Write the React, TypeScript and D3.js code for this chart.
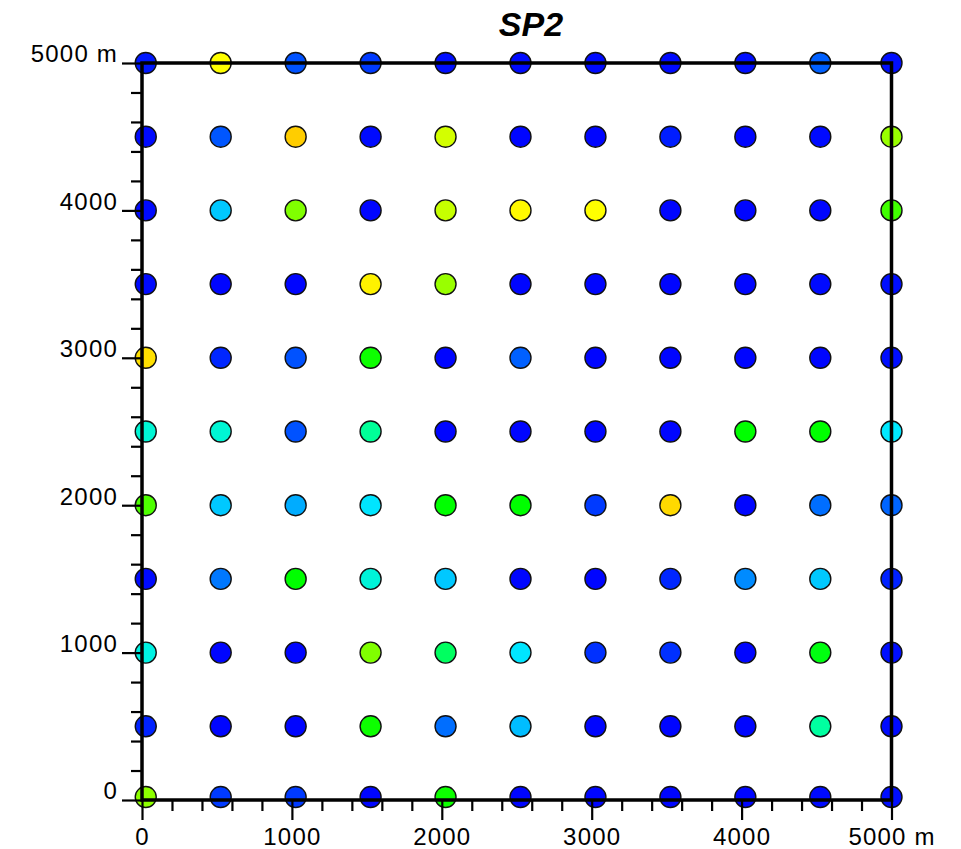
import React, { useEffect, useRef } from 'react';
import * as d3 from 'd3';

// grid node positions (m)
const xCoords = [25, 525, 1025, 1525, 2025, 2525, 3025, 3525, 4025, 4525, 5000];
const yCoords = [5000, 4500, 4000, 3500, 3000, 2500, 2000, 1500, 1000, 500, 20];

// SP2 values, one row per y (top to bottom), one column per x
const row5000 = [0.5, 9.0, 1.7, 1.2, 0.3, 0.2, 0.2, 0.2, 0.3, 2.0, 0.3];
const row4500 = [0.2, 1.8, 9.8, 0.2, 8.65, 0.1, 0.1, 0.6, 0.1, 0.2, 8.2];
const row4000 = [0.2, 4.0, 8.0, 0.1, 8.55, 9.1, 9.0, 0.1, 0.1, 0.1, 7.5];
const row3500 = [0.2, 0.1, 0.1, 9.2, 8.2, 0.1, 0.1, 0.1, 0.1, 0.2, 0.3];
const row3000 = [9.5, 0.8, 1.7, 7.1, 0.1, 2.0, 0.1, 0.1, 0.1, 0.1, 0.3];
const row2500 = [5.45, 5.45, 1.7, 6.05, 0.1, 0.1, 0.1, 0.1, 7.0, 7.0, 4.9];
const row2000 = [7.6, 4.0, 3.5, 4.8, 7.0, 7.0, 1.2, 9.6, 0.1, 2.3, 2.1];
const row1500 = [0.2, 2.5, 7.0, 5.4, 4.0, 0.1, 0.1, 0.8, 2.9, 4.0, 0.7];
const row1000 = [5.3, 0.1, 0.1, 8.0, 6.4, 4.8, 1.0, 1.0, 0.1, 6.9, 0.3];
const row500 = [0.7, 0.1, 0.1, 7.1, 2.3, 3.8, 0.1, 0.1, 0.1, 6.0, 0.2];
const row0 = [8.1, 1.2, 1.2, 0.1, 7.1, 0.1, 0.1, 0.1, 0.1, 0.2, 0.3];
const rows = [row5000, row4500, row4000, row3500, row3000, row2500, row2000, row1500, row1000, row500, row0];

const majorTicks = [0, 1000, 2000, 3000, 4000, 5000];
const minorTicks = d3.range(0, 5001, 200).filter((v) => v % 1000 !== 0);

const colorStops = ['#0000ff', '#0030ff', '#0060ff', '#0090ff', '#00c8ff', '#00ecff', '#00ffa0', '#00ff00', '#80ff00', '#ffff00', '#ffc000'];

function App() {
  const svgRef = useRef() as React.RefObject<SVGSVGElement>;

  useEffect(() => {
    const svg = d3.select(svgRef.current);
    svg.selectAll('*').remove();

    const xScale = d3.scaleLinear().domain([0, 5000]).range([142, 891.5]);
    const yScale = d3.scaleLinear().domain([0, 5000]).range([800, 63]);
    const color = d3.scaleLinear<string>()
      .domain(d3.range(colorStops.length))
      .range(colorStops)
      .interpolate(d3.interpolateRgb);

    const fmt = (d: any) => (d === 5000 ? '5000 m' : String(d));

    // title
    svg.append('text')
      .attr('x', 531)
      .attr('y', 36)
      .attr('text-anchor', 'middle')
      .style('font-family', 'Liberation Sans, Arial, sans-serif')
      .style('font-size', '34px')
      .style('font-weight', 'bold')
      .style('font-style', 'italic')
      .text('SP2');

    // points
    const pts = rows.flatMap((r, i) => r.map((v, j) => ({ x: xCoords[j], y: yCoords[i], v })));
    svg.append('g')
      .selectAll('circle')
      .data(pts)
      .join('circle')
      .attr('cx', (d) => xScale(d.x))
      .attr('cy', (d) => yScale(d.y))
      .attr('r', 10.5)
      .attr('fill', (d) => color(d.v))
      .attr('stroke', '#111')
      .attr('stroke-width', 1.4);

    // minor ticks
    svg.append('g')
      .attr('transform', 'translate(0,800)')
      .call(d3.axisBottom(xScale).tickValues(minorTicks).tickSize(11).tickFormat(() => ''));
    svg.append('g')
      .attr('transform', 'translate(142,0)')
      .call(d3.axisLeft(yScale).tickValues(minorTicks).tickSize(11).tickFormat(() => ''));

    // major ticks + labels
    svg.append('g')
      .attr('class', 'xAxis')
      .attr('transform', 'translate(0,800)')
      .call(d3.axisBottom(xScale).tickValues(majorTicks).tickSize(20).tickPadding(8).tickFormat(fmt));
    svg.append('g')
      .attr('class', 'yAxis')
      .attr('transform', 'translate(142,0)')
      .call(d3.axisLeft(yScale).tickValues(majorTicks).tickSize(20).tickPadding(4).tickFormat(fmt));

    svg.selectAll('.domain').remove();
    svg.selectAll('.tick line').attr('stroke', '#000').attr('stroke-width', 2.2);
    svg.selectAll('.tick text')
      .attr('fill', '#000')
      .style('font-family', 'Liberation Sans, Arial, sans-serif')
      .style('font-size', '24px')
      .style('letter-spacing', '1.2px');
    svg.selectAll('.yAxis .tick text').attr('dy', '-0.05em');

    // frame
    svg.append('rect')
      .attr('x', xScale(0))
      .attr('y', yScale(5000))
      .attr('width', xScale(5000) - xScale(0))
      .attr('height', yScale(0) - yScale(5000))
      .attr('fill', 'none')
      .attr('stroke', '#000')
      .attr('stroke-width', 3.5);
  }, []);

  return (
    <div>
      <svg ref={svgRef} width={961} height={849} style={{ position: 'absolute', left: 0, top: 0, background: '#fff' }}></svg>
    </div>
  );
}

export default App;
